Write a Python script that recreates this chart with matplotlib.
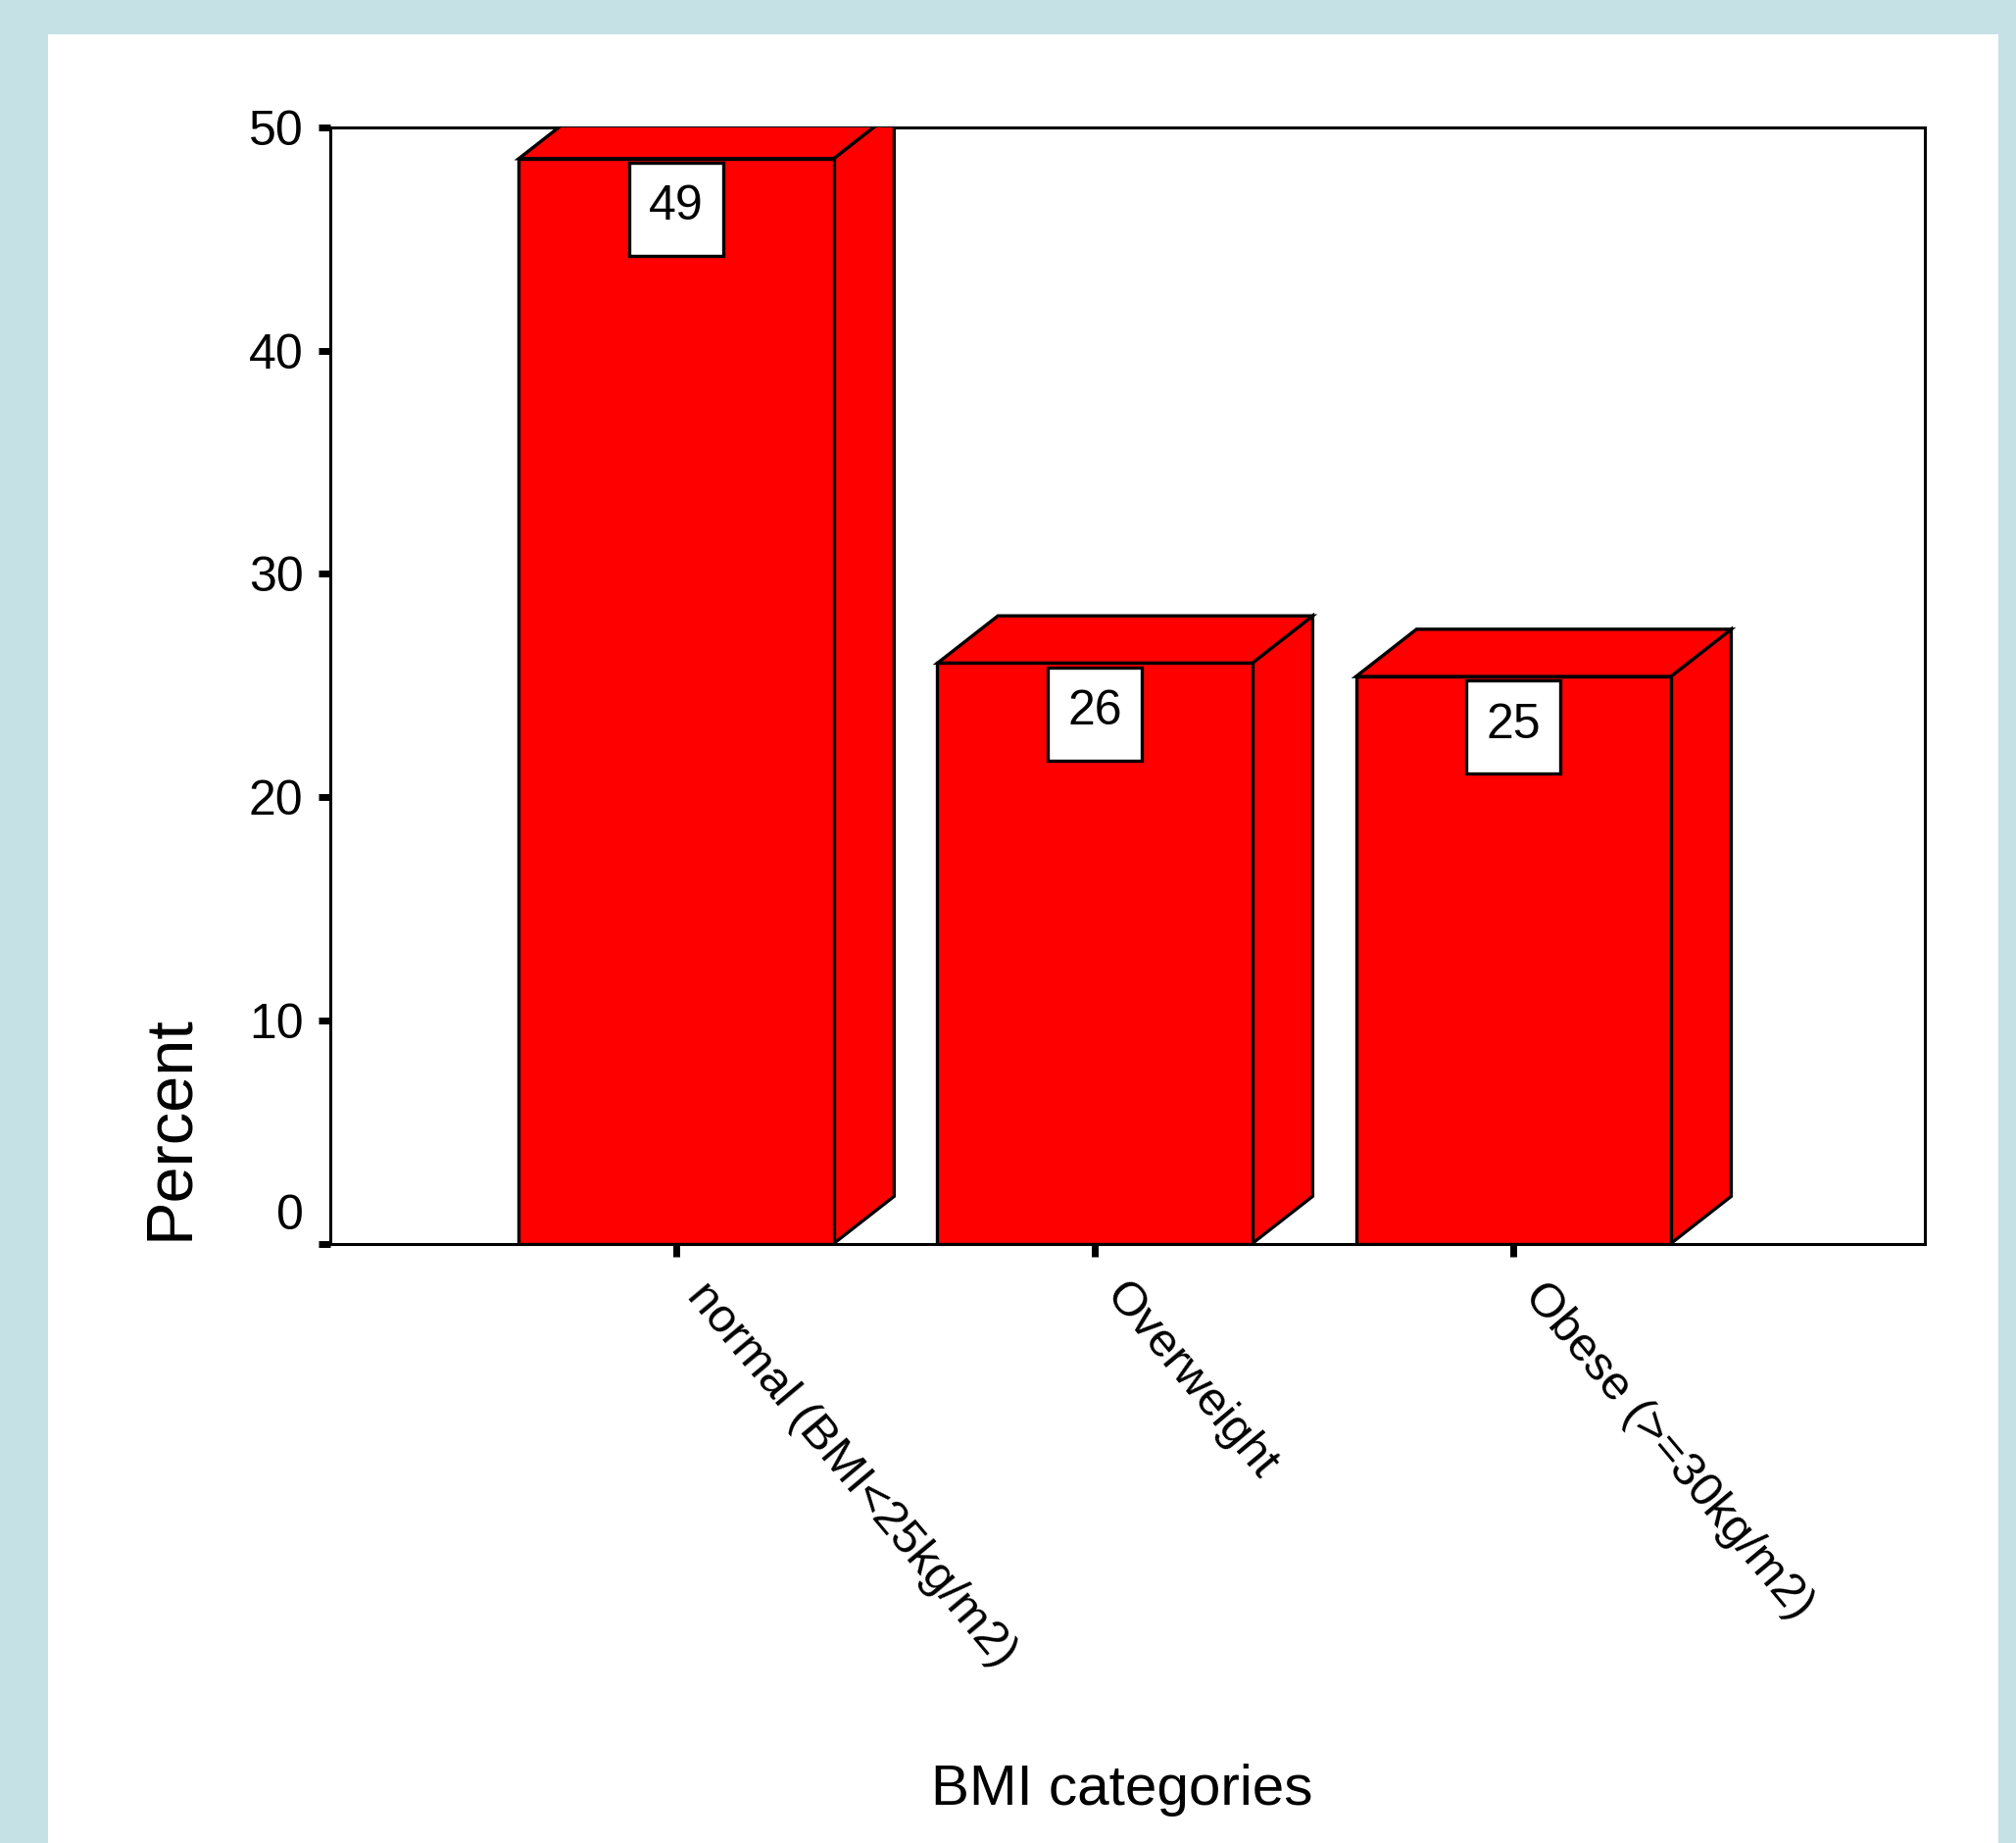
import matplotlib
matplotlib.use("Agg")
import matplotlib.pyplot as plt
from matplotlib.patches import Polygon, Rectangle
import matplotlib.transforms as mtransforms

# ---- data -------------------------------------------------------------
categories = ["normal (BMI<25kg/m2)", "Overweight", "Obese (>=30kg/m2)"]
percent = [48.6, 26.0, 25.4]
y_ticks = [0, 10, 20, 30, 40, 50]

# ---- style ------------------------------------------------------------
BG = "#C5E1E5"
BAR_RED = "#FF0000"
BAR_WIDTH = 0.752      # front face width (category units)
DEPTH_X = 0.1447       # oblique depth of the 3-D bars
DEPTH_Y = 2.12
BOX_W = 0.225          # value label box
BOX_H = 4.17
BOX_GAP = 0.18
EDGE_LW = 2.4

plt.rcParams["font.family"] = ["Liberation Sans", "DejaVu Sans"]

fig = plt.figure(figsize=(20.57, 18.80), dpi=100, facecolor=BG)
W, H = 2057, 1880
fig.add_artist(Rectangle((49 / W, 0), (2039 - 49) / W, 1 - 35 / H,
                         transform=fig.transFigure, facecolor="white",
                         edgecolor="none", zorder=0))

ax = fig.add_axes([0.16393, 0.32521, 0.79081, 0.60569])
ax.set_facecolor("white")
ax.set_xlim(-0.826, 2.983)
ax.set_ylim(0, 50)

for i, v in enumerate(percent):
    x0, x1 = i - BAR_WIDTH / 2, i + BAR_WIDTH / 2
    style = dict(facecolor=BAR_RED, edgecolor="black", linewidth=EDGE_LW,
                 joinstyle="miter", zorder=3)
    side = Polygon([(x1, 0), (x1 + DEPTH_X, DEPTH_Y), (x1 + DEPTH_X, v + DEPTH_Y), (x1, v)], **style)
    top = Polygon([(x0, v), (x1, v), (x1 + DEPTH_X, v + DEPTH_Y), (x0 + DEPTH_X, v + DEPTH_Y)], **style)
    front = Rectangle((x0, 0), BAR_WIDTH, v, **style)
    for p in (side, top, front):
        ax.add_patch(p)
    box_bottom = v - BOX_GAP - BOX_H
    ax.add_patch(Rectangle((i - BOX_W / 2, box_bottom), BOX_W, BOX_H,
                           facecolor="white", edgecolor="black",
                           linewidth=EDGE_LW, zorder=4))
    ax.text(i, box_bottom + BOX_H * 0.52, f"{v:.0f}", ha="center", va="center",
            fontsize=36, color="black", zorder=5)

for s in ax.spines.values():
    s.set_linewidth(2.2)
    s.set_color("black")
    s.set_zorder(2)

# y axis
ax.set_yticks(y_ticks)
ax.set_yticklabels([str(t) if t != 0 else "" for t in y_ticks])
ax.tick_params(axis="y", direction="out", length=9, width=5, pad=11,
               labelsize=36, colors="black")
# the zero label sits a little above the axis line
ax.annotate("0", xy=(0, 0), xycoords=("axes fraction", "data"),
            xytext=(-20, 20), textcoords="offset points",
            ha="right", va="center", fontsize=36)

# x axis
ax.set_xticks(range(len(categories)))
ax.set_xticklabels(categories, rotation=-50, ha="left", va="top",
                   rotation_mode="anchor")
ax.tick_params(axis="x", direction="out", length=9, width=5, pad=14,
               labelsize=35, colors="black")
shift = mtransforms.ScaledTranslation(26 / 72, 0, fig.dpi_scale_trans)
for lbl in ax.get_xticklabels():
    lbl.set_transform(lbl.get_transform() + shift)

ax.set_ylabel("Percent", fontsize=48, ha="center", va="center",
              rotation_mode="default")
ax.yaxis.set_label_coords(-0.1003, 0.104)
ax.set_xlabel("BMI categories", fontsize=42, va="center")
ax.xaxis.set_label_coords(0.4963, -0.4895)

fig.savefig("out.png", dpi=100, facecolor=BG)
